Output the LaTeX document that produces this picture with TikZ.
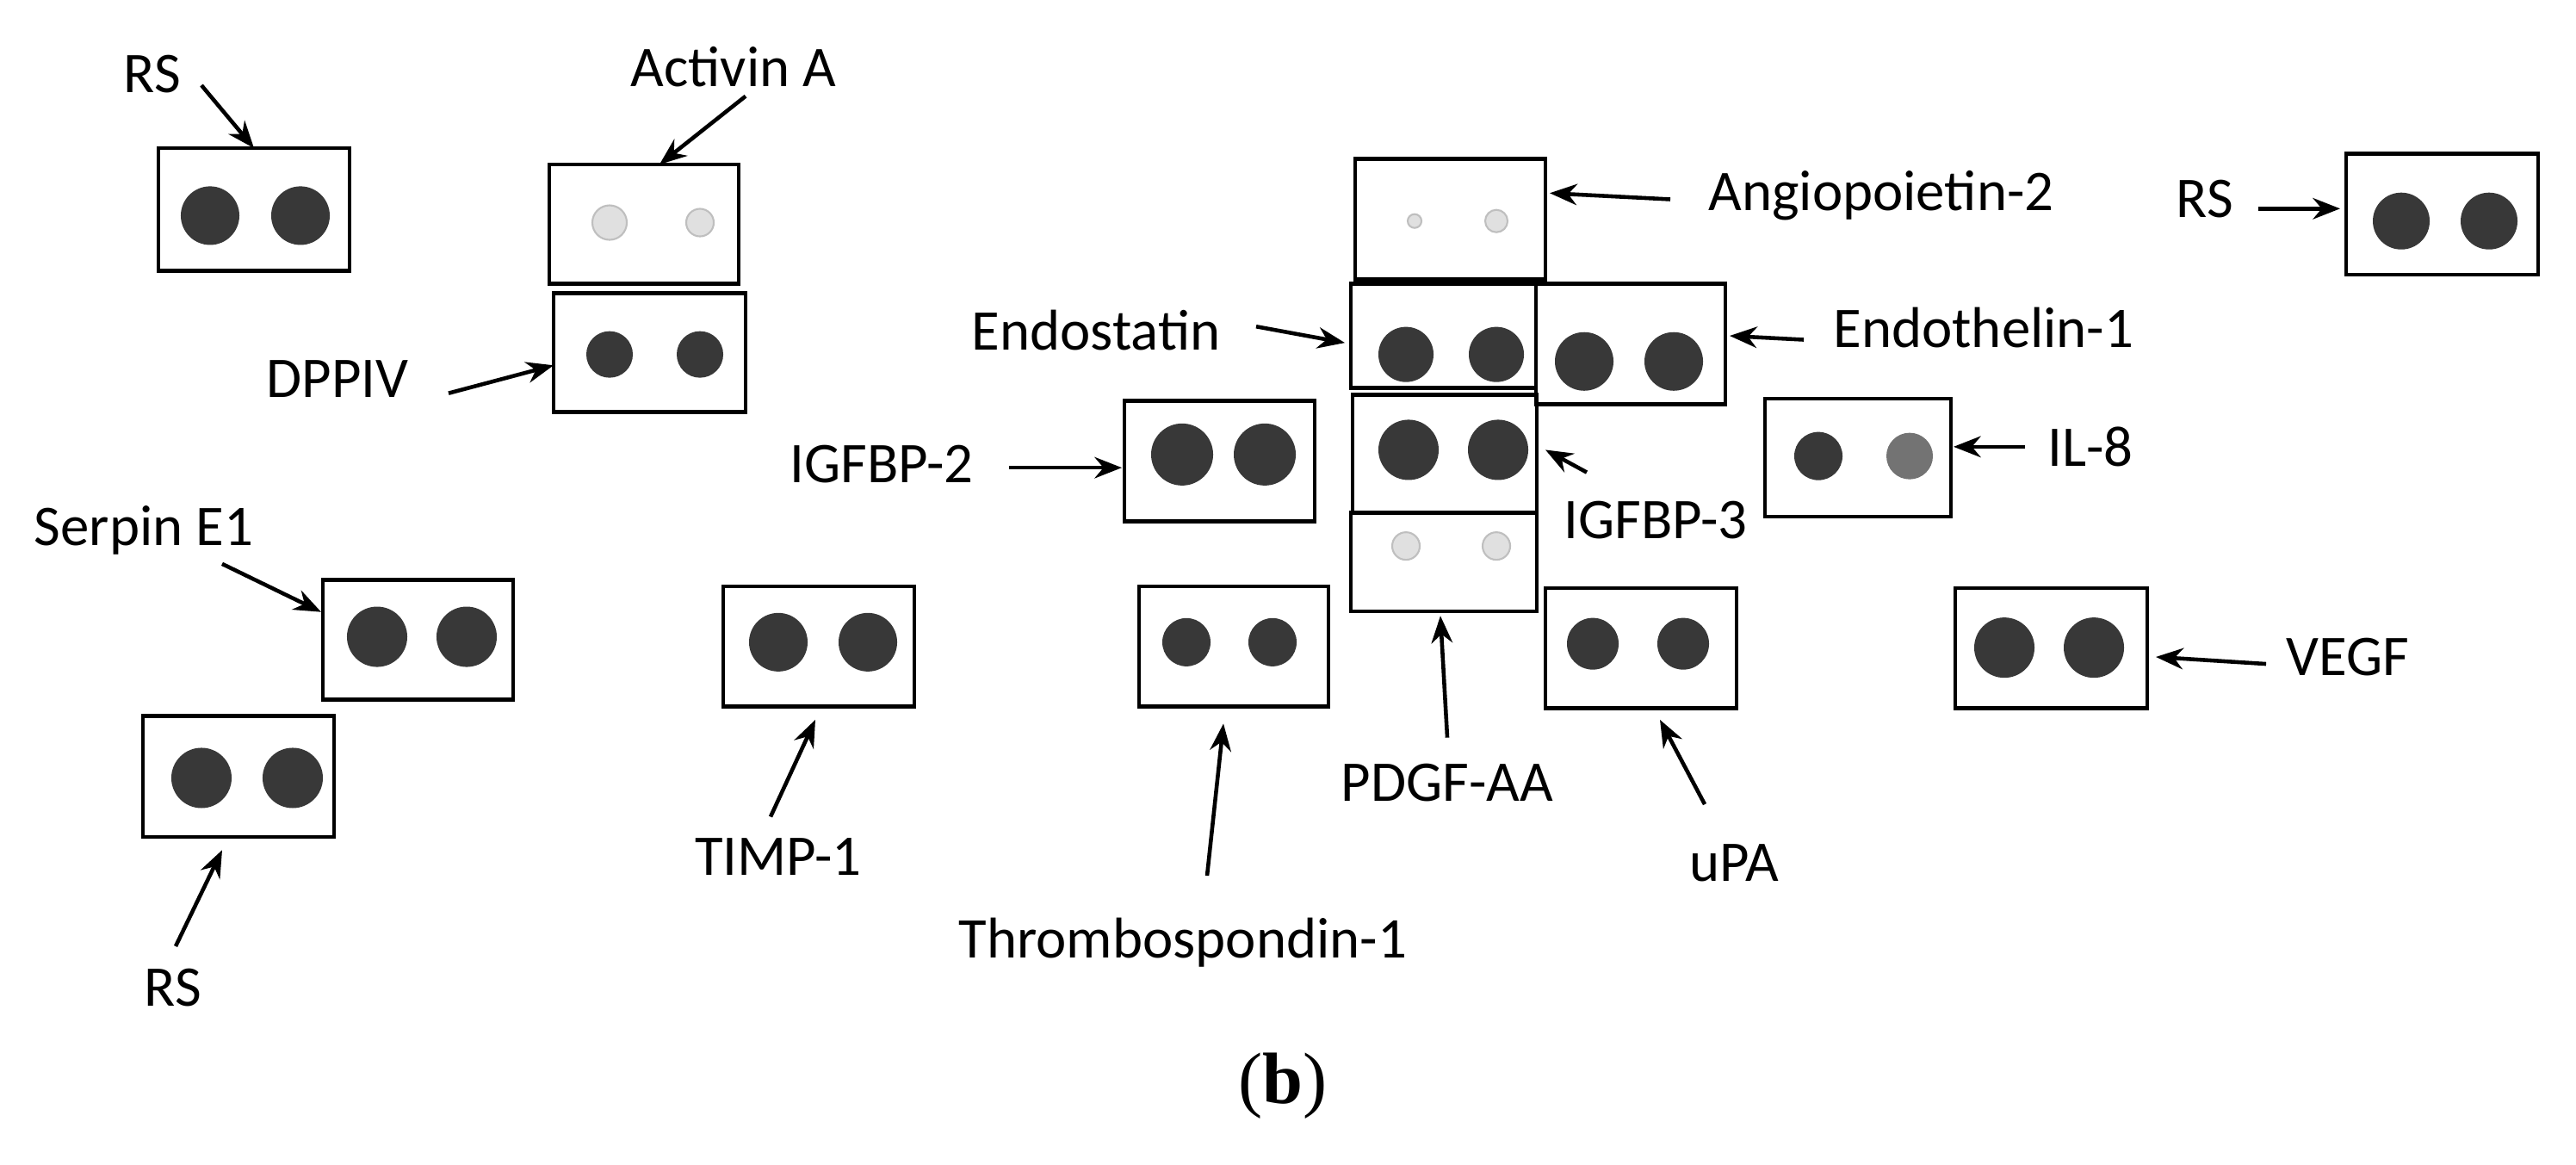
\documentclass[tikz,border=0pt]{standalone}
\usepackage{fontspec}
\setmainfont{Carlito}
\newfontfamily\capfont{Liberation Serif}
\usetikzlibrary{arrows.meta}
\begin{document}
\begin{tikzpicture}[x=0.01cm,y=-0.009cm,
  box/.style={draw=black,line width=1.3pt},
  dot/.style={fill=black!78},
  faint/.style={fill=black!12,draw=black!25,line width=0.6pt},
  lab/.style={font=\fontsize{19}{22}\selectfont,inner sep=0pt},
  arr/.style={-{Stealth[length=9pt,width=7pt]},line width=1.3pt}]
\useasboundingbox (0,0) rectangle (2992,1501);
% boxes
\draw[box] (184,191) rectangle (406,349);
\fill[dot] (244,278) circle (0.34cm); \fill[dot] (349,278) circle (0.34cm);
\draw[box] (638,212) rectangle (858,366);
\filldraw[faint] (708,287) circle (0.2cm); \filldraw[faint] (813,287) circle (0.16cm);
\draw[box] (643,378) rectangle (866,531);
\fill[dot] (708,457) circle (0.27cm); \fill[dot] (813,457) circle (0.27cm);
\draw[box] (375,748) rectangle (596,902);
\fill[dot] (438,821) circle (0.35cm); \fill[dot] (542,821) circle (0.35cm);
\draw[box] (166,923) rectangle (388,1079);
\fill[dot] (234,1003) circle (0.35cm); \fill[dot] (340,1003) circle (0.35cm);
\draw[box] (840,756) rectangle (1062,911);
\fill[dot] (904,828) circle (0.34cm); \fill[dot] (1008,828) circle (0.34cm);
\draw[box] (1306,517) rectangle (1527,672);
\fill[dot] (1373,586) circle (0.36cm); \fill[dot] (1469,586) circle (0.36cm);
\draw[box] (1323,756) rectangle (1543,911);
\fill[dot] (1378,828) circle (0.28cm); \fill[dot] (1478,828) circle (0.28cm);
\draw[box] (1574,205) rectangle (1795,360);
\filldraw[faint] (1643,285) circle (0.08cm); \filldraw[faint] (1738,285) circle (0.13cm);
\draw[box] (1569,366) rectangle (1784,500);
\fill[dot] (1633,457) circle (0.32cm); \fill[dot] (1738,457) circle (0.32cm);
\draw[box] (1784,366) rectangle (2004,521);
\fill[dot] (1840,466) circle (0.34cm); \fill[dot] (1944,466) circle (0.34cm);
\draw[box] (1571,509) rectangle (1785,661);
\fill[dot] (1636,580) circle (0.35cm); \fill[dot] (1740,580) circle (0.35cm);
\draw[box] (1569,661) rectangle (1785,788);
\filldraw[faint] (1633,704) circle (0.16cm); \filldraw[faint] (1738,704) circle (0.16cm);
\draw[box] (1795,758) rectangle (2017,913);
\fill[dot] (1850,830) circle (0.3cm); \fill[dot] (1955,830) circle (0.3cm);
\draw[box] (2050,514) rectangle (2266,666);
\fill[dot] (2112,588) circle (0.28cm); \fill[black!55] (2218,588) circle (0.27cm);
\draw[box] (2725,198) rectangle (2948,354);
\fill[dot] (2789,285) circle (0.33cm); \fill[dot] (2891,285) circle (0.33cm);
\draw[box] (2271,758) rectangle (2494,913);
\fill[dot] (2328,835) circle (0.35cm); \fill[dot] (2432,835) circle (0.35cm);
% labels
\node[lab] (l1) at (177,96) {RS};
\node[lab] (l2) at (852,86) {Activin A};
\node[lab] (l3) at (392,488) {DPPIV};
\node[lab] (l4) at (167,684) {Serpin E1};
\node[lab] (l5) at (201,1273) {RS};
\node[lab] (l6) at (904,1105) {TIMP-1};
\node[lab] (l7) at (1024,598) {IGFBP-2};
\node[lab] (l8) at (1273,426) {Endostatin};
\node[lab] (l9) at (1374,1215) {Thrombospondin-1};
\node[lab] (l10) at (2185,252) {Angiopoietin-2};
\node[lab] (l11) at (2304,423) {Endothelin-1};
\node[lab] (l12) at (1923,671) {IGFBP-3};
\node[lab] (l13) at (1681,1009) {PDGF-AA};
\node[lab] (l14) at (2014,1113) {uPA};
\node[lab] (l15) at (2428,576) {IL-8};
\node[lab] (l16) at (2561,257) {RS};
\node[lab] (l17) at (2727,847) {VEGF};
\node[inner sep=0pt,font=\fontsize{24}{28}\selectfont\capfont] (cap) at (1490,1400) {(\textbf{b})};
% arrows
\foreach \a/\b [count=\i] in {
 {234,110}/{295,191}, {866,124}/{766,212}, {521,507}/{643,471},
 {258,727}/{373,789}, {204,1220}/{258,1096}, {895,1053}/{947,928},
 {1172,603}/{1303,603}, {1459,421}/{1562,442}, {1402,1129}/{1421,933},
 {1940,257}/{1800,249}, {2095,438}/{2009,433}, {1843,609}/{1795,580},
 {1681,951}/{1673,794}, {1980,1037}/{1928,928}, {2352,576}/{2269,576},
 {2623,269}/{2718,269}, {2632,856}/{2504,847}}
 { \coordinate (s\i) at (\a); \coordinate (t\i) at (\b); \draw[arr] (s\i) -- (t\i); }
\end{tikzpicture}
\end{document}
